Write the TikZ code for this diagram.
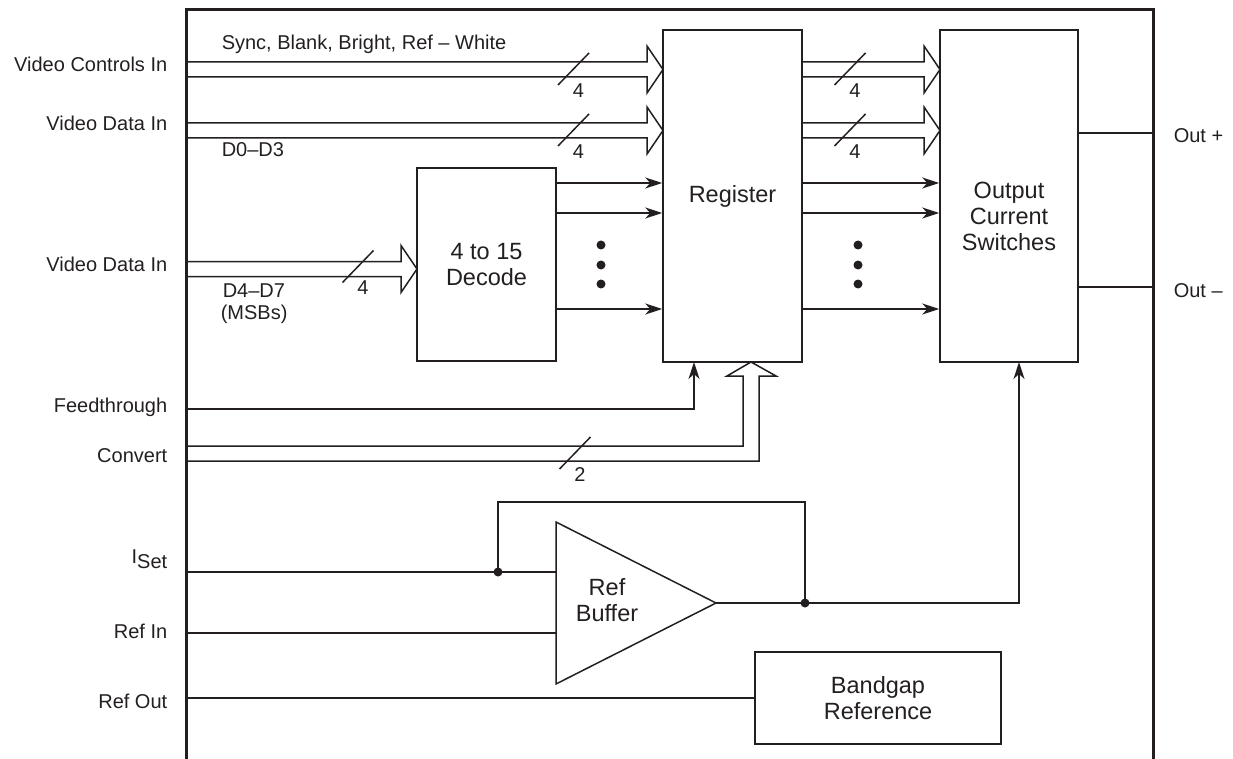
\documentclass[tikz,border=0pt]{standalone}
\usepackage{fontspec}
\setmainfont{Liberation Sans}
\usetikzlibrary{arrows.meta,calc}
\definecolor{ink}{HTML}{231F20}
\tikzset{
  lbl/.style={font=\fontsize{20}{26}\selectfont,text=ink,inner sep=0pt},
  inlbl/.style={font=\fontsize{23.5}{26}\selectfont,text=ink,inner sep=0pt,align=center},
  block/.style={draw,inlbl},
  junction/.style={circle,fill=ink,inner sep=0pt,minimum size=9pt},
  bus/.style={to path={
    ($(\tikztostart)+(0,-7.5)$) -- ($(\tikztotarget)+(-16,-7.5)$) -- ++(0,-16) -- (\tikztotarget)
    -- ++(-16,23.5) -- ++(0,-16) -- ($(\tikztostart)+(0,7.5)$)}},
  pics/slash/.style={code={
    \draw (-15.5,15.5) -- (15.5,-16.5);
    \node[lbl] at (5,21) {#1};}}
}
\begin{document}
\begin{tikzpicture}[x=1pt,y=-1pt,line width=1.5pt,color=ink,
    >={Stealth[length=17pt,width=11pt,inset=5pt]}]
  \useasboundingbox (0,0) rectangle (1233,759);
  % chip outline
  \draw[line width=3pt] (186,759) -- (186,10) -- (1153,10) -- (1153,759);
  % blocks
  \node[block,minimum width=139pt,minimum height=193pt] (dec) at (486.5,264.5) {4 to 15\\Decode};
  \node[block,minimum width=139pt,minimum height=332pt] (reg) at (732.5,196) {Register};
  \node[block,minimum width=138pt,minimum height=332pt] (out) at (1009,196) {};
  \node[inlbl] (outtext) at (1009,216) {Output\\Current\\Switches};
  \node[block,minimum width=246pt,minimum height=92pt] (bg) at (878,698) {Bandgap\\Reference};
  \draw (556,522) -- (716,603) -- (556,684) -- cycle;
  \node[inlbl] (buftext) at (607,600) {Ref\\Buffer};
  % pins on the chip edge
  \coordinate (vci) at (186,69.5);
  \coordinate (vdi) at (186,130.5);
  \coordinate (vdm) at (186,269);
  \coordinate (ft) at (186,409);
  \coordinate (cva) at (186,446);
  \coordinate (cvb) at (186,461);
  \coordinate (iset) at (186,572);
  \coordinate (refin) at (186,633);
  \coordinate (refout) at (186,698);
  \coordinate (outp) at (1153,133);
  \coordinate (outm) at (1153,287);
  % inner points
  \coordinate (regvc) at (663,69.5);
  \coordinate (regvd) at (663,130.5);
  \coordinate (outvc) at (940,69.5);
  \coordinate (outvd) at (940,130.5);
  \coordinate (decin) at (417,269);
  \coordinate (ftin) at (694,362);
  \coordinate (cvtip) at (751,362);
  \coordinate (bufp) at (556,572);
  \coordinate (bufm) at (556,633);
  \coordinate (bufout) at (716,603);
  \coordinate (fbtop) at (805,502);
  \coordinate (outin) at (1019,362);
  % pin labels
  \node[lbl,anchor=base east] (l1) at (168,72) {Video Controls In};
  \node[lbl,anchor=base east] (l2) at (168,131) {Video Data In};
  \node[lbl,anchor=base east] (l3) at (168,272) {Video Data In};
  \node[lbl,anchor=base east] (l4) at (168,412) {Feedthrough};
  \node[lbl,anchor=base east] (l5) at (168,462) {Convert};
  \node[lbl,anchor=base east] (l6) at (168,563) {I\raisebox{-5pt}{Set}};
  \node[lbl,anchor=base east] (l7) at (168,638) {Ref In};
  \node[lbl,anchor=base east] (l8) at (168,708) {Ref Out};
  \node[lbl,anchor=base west] (r1) at (1173,143) {Out +};
  \node[lbl,anchor=base west] (r2) at (1173,297) {Out --};
  \node[lbl,anchor=base west] (t1) at (221,50) {Sync, Blank, Bright, Ref -- White};
  \node[lbl,anchor=base west] (t2) at (221,157) {D0--D3};
  \node[lbl,anchor=base west] (t3) at (222,297) {D4--D7};
  \node[lbl,anchor=base west] (t4) at (220,319) {(MSBs)};
  % buses
  \draw[bus] (vci) to (regvc);
  \draw[bus] (vdi) to (regvd);
  \draw[bus] (reg.east |- vci) to (outvc);
  \draw[bus] (reg.east |- vdi) to (outvd);
  \draw[bus] (vdm) to (decin);
  \pic at (573.5,69.5) {slash=4};
  \pic at (573.5,130.5) {slash=4};
  \pic at (850,69.5) {slash=4};
  \pic at (850,130.5) {slash=4};
  \pic at (358,267) {slash=4};
  \draw (cva) -| ($(cvtip)+(-8,14)$) -- ++(-16,0) -- (cvtip) -- ++(25,14) -- ++(-17,0) |- (cvb);
  \pic at (575,453.5) {slash=2};
  % single lines
  \foreach \y in {183,213,309} {
    \coordinate (h) at (0,\y);
    \draw[->] (dec.east |- h) -- (reg.west |- h);
    \draw[->] (reg.east |- h) -- (out.west |- h);
  }
  \foreach \y [count=\i] in {245,265,284} {
    \node[junction] (da\i) at (601,\y) {};
    \node[junction] (db\i) at (858,\y) {};
  }
  \draw[->] (ft) -| (ftin);
  \draw (out.east |- outp) -- (outp);
  \draw (out.east |- outm) -- (outm);
  % reference section
  \draw (iset) -- (bufp);
  \draw (refin) -- (bufm);
  \node[junction] (jset) at (498,572) {};
  \node[junction] (jout) at (805,603) {};
  \draw (jset.center) |- (fbtop) -- (jout.center);
  \draw[->] (bufout) -| (outin);
  \draw (refout) -- (bg.west);
\end{tikzpicture}
\end{document}
